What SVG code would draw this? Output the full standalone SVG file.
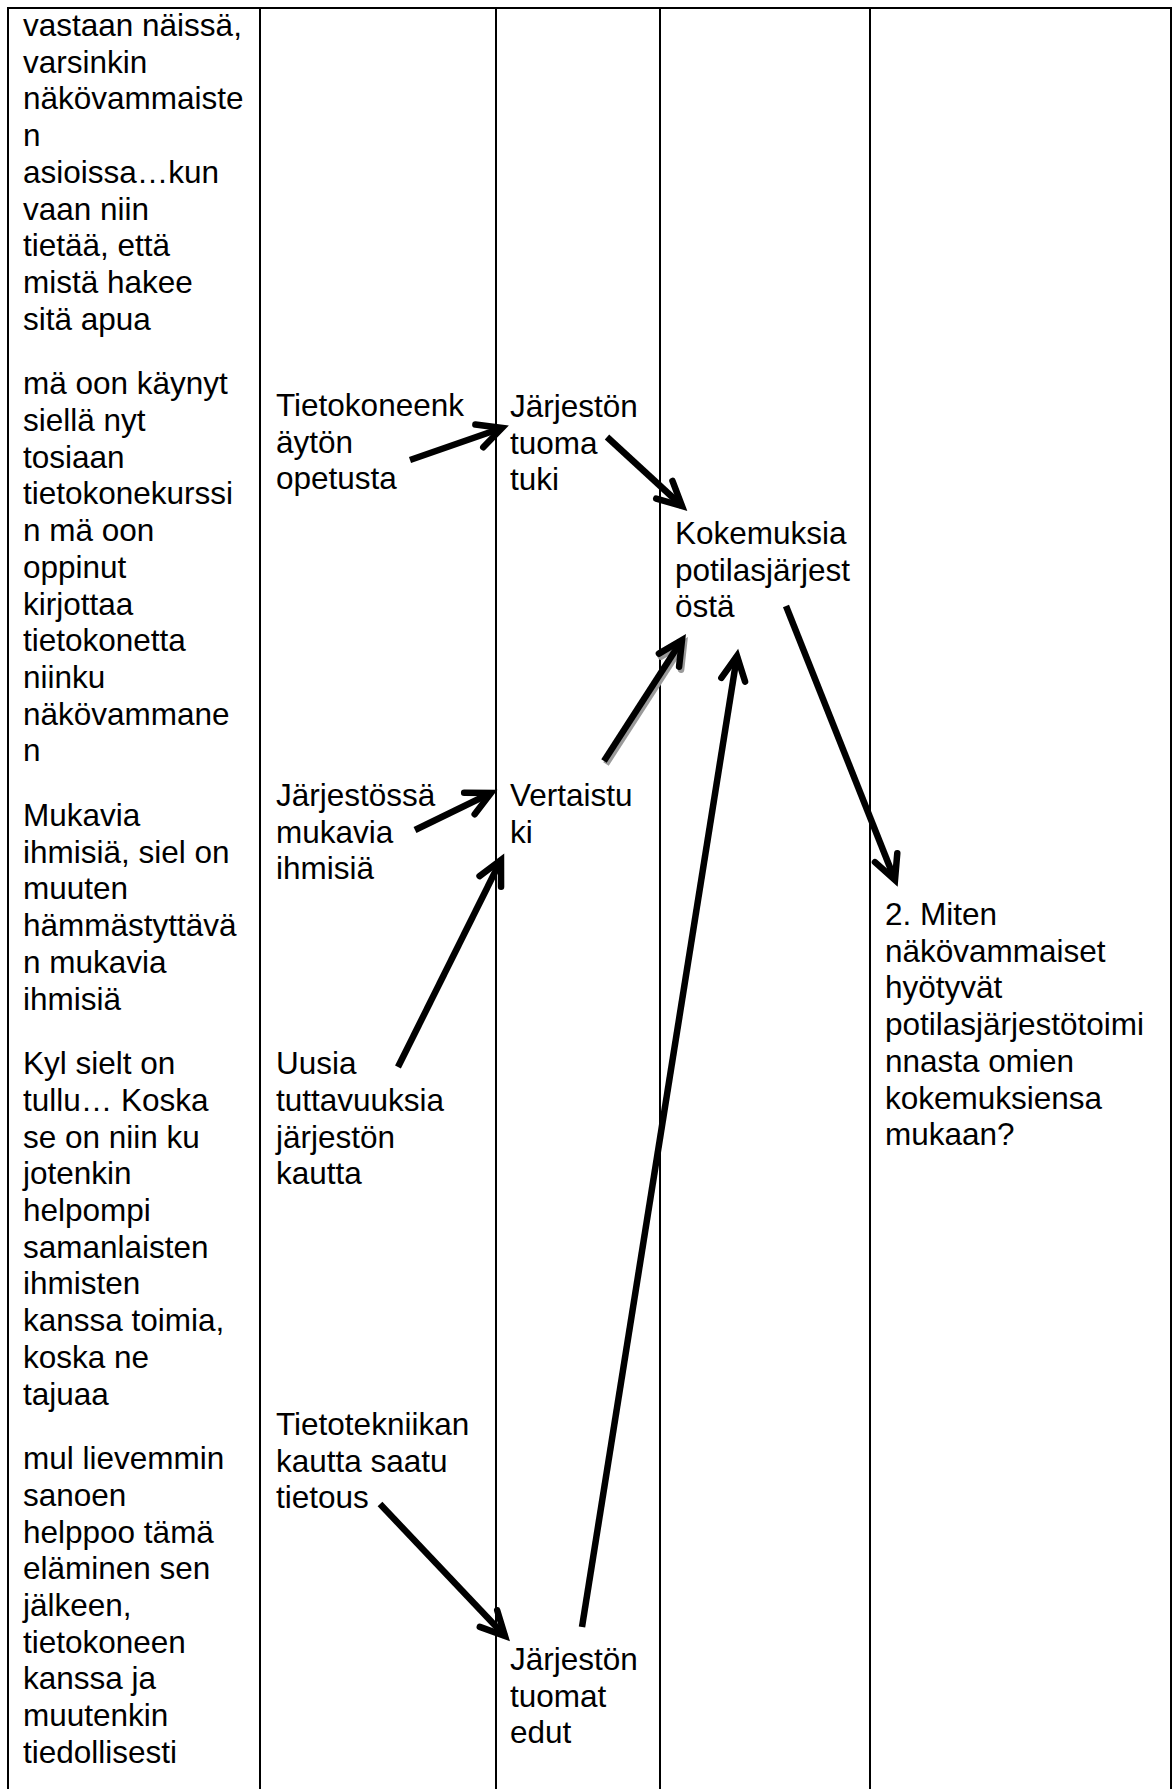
<svg xmlns="http://www.w3.org/2000/svg" width="1173" height="1789" viewBox="0 0 1173 1789">
<style>
text{font-family:"Liberation Sans",Arial,sans-serif;font-size:31.5px;fill:#000}
.grid{stroke:#000;stroke-width:2;fill:none}
.arr{stroke:#000;stroke-width:6.5;fill:none;marker-end:url(#ah)}
.shadow{stroke:#9a9a9a;stroke-width:6.5;fill:none;marker-end:url(#ahs)}
</style>
<defs>
<marker id="ah" markerUnits="userSpaceOnUse" orient="auto" overflow="visible" refX="0" refY="0" markerWidth="30" markerHeight="30">
<path d="M-24,-12 L0,0 L-24,12" stroke="#000" stroke-width="6.5" fill="none" stroke-linecap="round"/>
</marker>
<marker id="ahs" markerUnits="userSpaceOnUse" orient="auto" overflow="visible" refX="0" refY="0" markerWidth="30" markerHeight="30">
<path d="M-24,-12 L0,0 L-24,12" stroke="#9a9a9a" stroke-width="6.5" fill="none" stroke-linecap="round"/>
</marker>
</defs>
<rect width="1173" height="1789" fill="#fff"/>
<g id="table">
<line class="grid" x1="7" y1="8" x2="1172" y2="8" stroke-width="3"/>
<line class="grid" x1="8" y1="7" x2="8" y2="1789"/>
<line class="grid" x1="260" y1="7" x2="260" y2="1789"/>
<line class="grid" x1="496" y1="7" x2="496" y2="1789"/>
<line class="grid" x1="660" y1="7" x2="660" y2="1789"/>
<line class="grid" x1="870" y1="7" x2="870" y2="1789"/>
<line class="grid" x1="1171" y1="7" x2="1171" y2="1789"/>
</g>
<g id="quotes">
<text x="23" y="36"><tspan x="23">vastaan näissä,</tspan><tspan x="23" dy="36.7">varsinkin</tspan><tspan x="23" dy="36.7">näkövammaiste</tspan><tspan x="23" dy="36.7">n</tspan><tspan x="23" dy="36.7">asioissa…kun</tspan><tspan x="23" dy="36.7">vaan niin</tspan><tspan x="23" dy="36.7">tietää, että</tspan><tspan x="23" dy="36.7">mistä hakee</tspan><tspan x="23" dy="36.7">sitä apua</tspan></text>
<text x="23" y="394.3"><tspan x="23">mä oon käynyt</tspan><tspan x="23" dy="36.7">siellä nyt</tspan><tspan x="23" dy="36.7">tosiaan</tspan><tspan x="23" dy="36.7">tietokonekurssi</tspan><tspan x="23" dy="36.7">n mä oon</tspan><tspan x="23" dy="36.7">oppinut</tspan><tspan x="23" dy="36.7">kirjottaa</tspan><tspan x="23" dy="36.7">tietokonetta</tspan><tspan x="23" dy="36.7">niinku</tspan><tspan x="23" dy="36.7">näkövammane</tspan><tspan x="23" dy="36.7">n</tspan></text>
<text x="23" y="826"><tspan x="23">Mukavia</tspan><tspan x="23" dy="36.7">ihmisiä, siel on</tspan><tspan x="23" dy="36.7">muuten</tspan><tspan x="23" dy="36.7">hämmästyttävä</tspan><tspan x="23" dy="36.7">n mukavia</tspan><tspan x="23" dy="36.7">ihmisiä</tspan></text>
<text x="23" y="1074.2"><tspan x="23">Kyl sielt on</tspan><tspan x="23" dy="36.7">tullu… Koska</tspan><tspan x="23" dy="36.7">se on niin ku</tspan><tspan x="23" dy="36.7">jotenkin</tspan><tspan x="23" dy="36.7">helpompi</tspan><tspan x="23" dy="36.7">samanlaisten</tspan><tspan x="23" dy="36.7">ihmisten</tspan><tspan x="23" dy="36.7">kanssa toimia,</tspan><tspan x="23" dy="36.7">koska ne</tspan><tspan x="23" dy="36.7">tajuaa</tspan></text>
<text x="23" y="1469.2"><tspan x="23">mul lievemmin</tspan><tspan x="23" dy="36.7">sanoen</tspan><tspan x="23" dy="36.7">helppoo tämä</tspan><tspan x="23" dy="36.7">eläminen sen</tspan><tspan x="23" dy="36.7">jälkeen,</tspan><tspan x="23" dy="36.7">tietokoneen</tspan><tspan x="23" dy="36.7">kanssa ja</tspan><tspan x="23" dy="36.7">muutenkin</tspan><tspan x="23" dy="36.7">tiedollisesti</tspan></text>
</g>
<g id="n-tietokoneenkayton">
<text x="276" y="416"><tspan x="276">Tietokoneenk</tspan><tspan x="276" dy="36.7">äytön</tspan><tspan x="276" dy="36.7">opetusta</tspan></text>
</g>
<g id="n-jarjestossa">
<text x="276" y="806"><tspan x="276">Järjestössä</tspan><tspan x="276" dy="36.7">mukavia</tspan><tspan x="276" dy="36.7">ihmisiä</tspan></text>
</g>
<g id="n-uusia">
<text x="276" y="1074.2"><tspan x="276">Uusia</tspan><tspan x="276" dy="36.7">tuttavuuksia</tspan><tspan x="276" dy="36.7">järjestön</tspan><tspan x="276" dy="36.7">kautta</tspan></text>
</g>
<g id="n-tietotekniikan">
<text x="276" y="1435"><tspan x="276">Tietotekniikan</tspan><tspan x="276" dy="36.7">kautta saatu</tspan><tspan x="276" dy="36.7">tietous</tspan></text>
</g>
<g id="n-tuoma-tuki">
<text x="510" y="417"><tspan x="510">Järjestön</tspan><tspan x="510" dy="36.7">tuoma</tspan><tspan x="510" dy="36.7">tuki</tspan></text>
</g>
<g id="n-vertaistuki">
<text x="510" y="806"><tspan x="510">Vertaistu</tspan><tspan x="510" dy="36.7">ki</tspan></text>
</g>
<g id="n-tuomat-edut">
<text x="510" y="1670"><tspan x="510">Järjestön</tspan><tspan x="510" dy="36.7">tuomat</tspan><tspan x="510" dy="36.7">edut</tspan></text>
</g>
<g id="n-kokemuksia">
<text x="675" y="544"><tspan x="675">Kokemuksia</tspan><tspan x="675" dy="36.7">potilasjärjest</tspan><tspan x="675" dy="36.7">östä</tspan></text>
</g>
<g id="n-question">
<text x="885" y="925"><tspan x="885">2. Miten</tspan><tspan x="885" dy="36.7">näkövammaiset</tspan><tspan x="885" dy="36.7">hyötyvät</tspan><tspan x="885" dy="36.7">potilasjärjestötoimi</tspan><tspan x="885" dy="36.7">nnasta omien</tspan><tspan x="885" dy="36.7">kokemuksiensa</tspan><tspan x="885" dy="36.7">mukaan?</tspan></text>
</g>
<g id="connectors">
<line class="shadow" x1="606" y1="764" x2="684" y2="643"/>
<line class="arr" x1="410" y1="460" x2="502" y2="428"/>
<line class="arr" x1="607" y1="437" x2="682" y2="506"/>
<line class="arr" x1="604" y1="761" x2="682" y2="640"/>
<line class="arr" x1="582" y1="1627" x2="737" y2="656"/>
<line class="arr" x1="786" y1="606" x2="895" y2="880"/>
<line class="arr" x1="415" y1="830" x2="491" y2="793"/>
<line class="arr" x1="398" y1="1067" x2="501" y2="860"/>
<line class="arr" x1="380" y1="1504" x2="505" y2="1636"/>
</g>
</svg>
